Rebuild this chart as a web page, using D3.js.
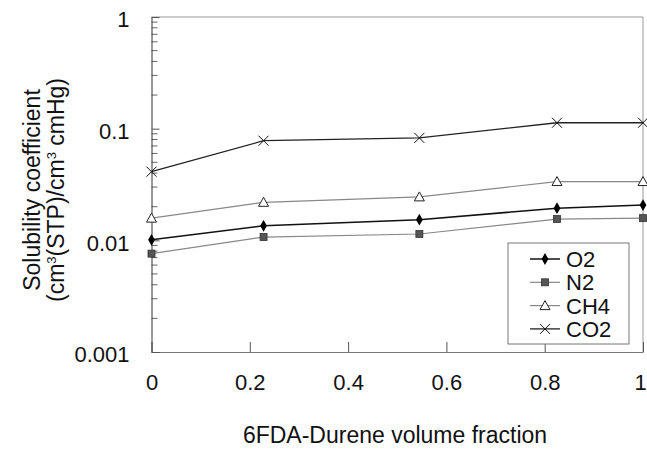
<!DOCTYPE html>
<html>
<head>
<meta charset="utf-8">
<script src="https://cdn.jsdelivr.net/npm/d3@7"></script>
<style>
  body { margin: 0; background: #fff; }
  text { font-family: "Liberation Sans", Arial, sans-serif; fill: #111; }
</style>
</head>
<body>
<div id="chart"></div>
<script>
// data
const fractions = [0, 0.228, 0.545, 0.825, 1];
const o2  = [0.0101, 0.0135, 0.0153, 0.0194, 0.0207];
const n2  = [0.0076, 0.0107, 0.0114, 0.0155, 0.0158];
const ch4 = [0.0158, 0.0219, 0.0245, 0.0336, 0.0336];
const co2 = [0.0412, 0.078, 0.0826, 0.113, 0.113];
const seriesNames = ["O2", "N2", "CH4", "CO2"];
const xTicks = [0, 0.2, 0.4, 0.6, 0.8, 1];
const yTicks = [0.001, 0.01, 0.1, 1];

const W = 647, H = 452;
const margin = {top: 17, right: 4, bottom: 100, left: 151.5};
const height = H - margin.top - margin.bottom;

const svg = d3.select("#chart").append("svg")
    .attr("width", W).attr("height", H);
const g = svg.append("g")
    .attr("transform", `translate(${margin.left},${margin.top})`);

const x = d3.scaleLinear().domain([0, 1]).range([0, 491.5]);
const y = d3.scaleLog().domain([0.001, 1]).range([height, 0]);

// frame
g.append("line").attr("x1", 0).attr("x2", x(1)).attr("y1", 0).attr("y2", 0)
    .attr("stroke", "#999").attr("stroke-width", 1);
g.append("line").attr("x1", x(1)).attr("x2", x(1)).attr("y1", 0).attr("y2", height)
    .attr("stroke", "#999").attr("stroke-width", 1);

// x axis, ticks pointing in
const xAxis = g.append("g")
    .attr("transform", `translate(0,${height})`)
    .call(d3.axisBottom(x).tickValues(xTicks).tickFormat(d3.format("")).tickSizeInner(-10).tickSizeOuter(0).tickPadding(22));
xAxis.select(".domain").attr("stroke", "#777");
xAxis.selectAll(".tick line").attr("stroke", "#555");
xAxis.selectAll("text").attr("font-size", 22);
xAxis.selectAll(".tick").filter(d => d === 1).select("text").attr("dx", -3);

// y axis, minor ticks inside
const minor = [];
for (let p = -3; p < 0; p++) for (let k = 2; k <= 9; k++) minor.push(k * Math.pow(10, p));
g.append("g").selectAll("line").data(minor).join("line")
    .attr("x1", 0).attr("x2", 6)
    .attr("y1", d => y(d)).attr("y2", d => y(d))
    .attr("stroke", "#666");
const yAxis = g.append("g")
    .call(d3.axisLeft(y).tickValues(yTicks).tickFormat(d => String(d)).tickSizeInner(-8).tickSizeOuter(0).tickPadding(22));
yAxis.select(".domain").attr("stroke", "#333");
yAxis.selectAll(".tick line").attr("stroke", "#555");
yAxis.selectAll("text").attr("font-size", 22).attr("dy", "0.45em");

// series
const series = [
  {name: "O2", values: o2, color: "#111", width: 1.5, marker: "diamond"},
  {name: "N2", values: n2, color: "#888", width: 1.2, marker: "square"},
  {name: "CH4", values: ch4, color: "#888", width: 1.2, marker: "triangle"},
  {name: "CO2", values: co2, color: "#222", width: 1.3, marker: "cross"}
];

const line = d3.line().x(d => x(d[0])).y(d => y(d[1]));

function drawMarker(sel, type) {
  if (type === "diamond") {
    sel.append("path").attr("d", d3.symbol(d3.symbolDiamond, 40)())
      .attr("fill", "#000");
  } else if (type === "square") {
    sel.append("rect").attr("x", -3.5).attr("y", -3.5).attr("width", 7).attr("height", 7)
      .attr("fill", "#555").attr("stroke", "#333").attr("stroke-width", 0.8);
  } else if (type === "triangle") {
    sel.append("path").attr("d", "M0,-5L5,4L-5,4Z")
      .attr("fill", "#fff").attr("stroke", "#222").attr("stroke-width", 1);
  } else {
    sel.append("path").attr("d", "M-5,-5L5,5M-5,5L5,-5")
      .attr("fill", "none").attr("stroke", "#111").attr("stroke-width", 1);
  }
}

series.forEach(s => {
  const pts = fractions.map((f, i) => [f, s.values[i]]);
  g.append("path").datum(pts)
    .attr("d", line).attr("fill", "none")
    .attr("stroke", s.color).attr("stroke-width", s.width);
  g.append("g").selectAll("g").data(pts).join("g")
    .attr("transform", d => `translate(${x(d[0])},${y(d[1])})`)
    .each(function() { drawMarker(d3.select(this), s.marker); });
});

// legend
const legend = g.append("g").attr("transform", `translate(${508 - margin.left},${243 - margin.top})`);
legend.append("rect").attr("width", 121).attr("height", 101)
  .attr("fill", "#fff").attr("stroke", "#777").attr("stroke-width", 1);
series.forEach((s, i) => {
  const row = legend.append("g").attr("transform", `translate(0,${16 + i * 23.3})`);
  row.append("line").attr("x1", 22).attr("x2", 52).attr("stroke", s.color).attr("stroke-width", s.width);
  const m = row.append("g").attr("transform", "translate(37,0)");
  drawMarker(m, s.marker);
  row.append("text").attr("x", 58).attr("y", 8).attr("font-size", 22).text(s.name);
});

// axis titles
svg.append("text").attr("x", 395).attr("y", 443).attr("text-anchor", "middle")
  .attr("font-size", 23).text("6FDA-Durene volume fraction");

const yt = svg.append("text").attr("transform", "translate(0,190) rotate(-90)")
  .attr("text-anchor", "middle").attr("font-size", 23);
yt.append("tspan").attr("x", 0).attr("y", 40).text("Solubility coefficient");
const l2 = yt.append("tspan").attr("x", 0).attr("y", 64);
l2.append("tspan").text("(cm");
l2.append("tspan").attr("dy", -8).attr("font-size", 13).text("3");
l2.append("tspan").attr("dy", 8).text("(STP)/cm");
l2.append("tspan").attr("dy", -8).attr("font-size", 13).text("3");
l2.append("tspan").attr("dy", 8).text(" cmHg)");
</script>
</body>
</html>
